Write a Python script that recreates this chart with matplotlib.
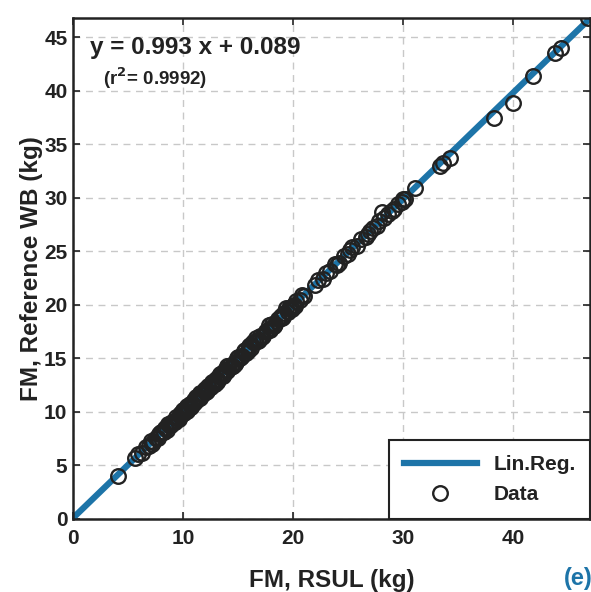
import matplotlib
matplotlib.use("Agg")
import matplotlib.pyplot as plt
import numpy as np

plt.rcParams['font.family'] = ['Liberation Sans', 'DejaVu Sans']
plt.rcParams['font.weight'] = 'bold'

# Data
x_data = [4.1, 5.6, 5.9, 6.3, 6.6, 6.9, 7.1, 7.3, 7.5, 7.7, 7.9, 8.0, 8.2, 8.4, 8.5,
          8.7, 8.9, 9.0, 9.2, 9.4, 9.5, 9.7, 9.9, 10.0, 10.2, 10.3, 10.5, 10.6, 10.8,
          11.0, 11.1, 11.3, 11.5, 11.6, 11.8, 12.0, 12.1, 12.3, 12.5, 12.7, 12.9, 13.0,
          13.2, 13.4, 13.6, 13.8, 14.0, 14.2, 14.4, 14.6, 14.8, 15.0, 15.3, 15.5, 15.7,
          16.0, 16.2, 16.5, 16.8, 17.0, 17.3, 17.6, 17.9, 18.1, 18.4, 18.7, 19.0, 19.2,
          19.5, 19.8, 20.0, 20.3, 20.6, 21.0, 22.0, 22.3, 22.7, 23.0, 23.4, 23.8, 24.2,
          24.6, 25.0, 25.4, 25.8, 26.2, 26.6, 27.0, 27.3, 27.6, 28.1, 28.3, 28.6, 29.0,
          29.5, 29.9, 30.2, 31.1, 33.4, 33.6, 34.3, 38.3, 40.0, 41.8, 43.8, 44.4, 46.8,
          7.2, 7.8, 8.3, 8.8, 9.3, 9.8, 10.1, 10.4, 10.9, 11.2, 11.4, 11.9, 12.2, 12.6,
          12.8, 13.3, 13.7, 14.1, 14.5, 14.9, 15.2, 15.6, 15.9, 16.4, 16.9, 17.5, 18.0,
          18.6, 19.1, 19.6, 20.2, 20.8, 9.6, 10.7, 11.7, 12.4, 13.5, 14.7, 16.1, 17.2,
          18.9, 20.1, 24.0, 25.2, 26.8, 27.8, 29.2, 30.0,
          8.6, 10.4, 11.5, 12.9, 14.0, 15.4, 16.6, 18.3, 19.4, 13.1, 17.8, 19.9]
y_data = [4.0, 5.7, 6.1, 6.2, 6.7, 6.8, 7.3, 7.2, 7.6, 7.6, 8.0, 8.1, 8.1, 8.5, 8.3,
          8.8, 8.8, 9.1, 9.1, 9.5, 9.4, 9.8, 9.8, 10.2, 10.1, 10.4, 10.4, 10.7, 10.7,
          11.1, 10.9, 11.4, 11.3, 11.7, 11.7, 12.1, 11.9, 12.4, 12.3, 12.8, 12.7, 13.1,
          13.0, 13.5, 13.4, 13.9, 13.8, 14.3, 14.2, 14.6, 14.7, 15.1, 15.1, 15.7, 15.5,
          16.2, 16.0, 16.5, 16.6, 17.1, 17.1, 17.6, 17.7, 18.2, 18.2, 18.7, 18.8, 19.2,
          19.3, 19.8, 19.9, 20.4, 20.5, 20.8, 21.9, 22.3, 22.4, 23.0, 23.2, 23.8, 23.9,
          24.6, 24.8, 25.4, 25.5, 26.2, 26.3, 26.9, 27.2, 27.4, 28.7, 28.1, 28.5, 28.8,
          29.4, 29.6, 29.9, 30.9, 33.0, 33.3, 33.7, 37.5, 38.9, 41.4, 43.5, 44.0, 46.8,
          7.0, 7.9, 8.1, 8.9, 9.1, 9.9, 9.9, 10.6, 10.7, 11.4, 11.2, 12.0, 12.0, 12.8,
          12.6, 13.4, 13.5, 14.3, 14.3, 15.0, 15.0, 15.8, 15.7, 16.5, 16.7, 17.6, 17.8,
          18.7, 18.9, 19.7, 19.9, 20.9, 9.3, 10.5, 11.8, 12.2, 13.6, 14.5, 16.3, 17.0,
          19.0, 20.0, 23.7, 25.1, 26.6, 27.8, 29.0, 29.9,
          8.9, 10.1, 11.8, 12.6, 14.3, 15.2, 16.9, 18.0, 19.7, 12.8, 18.1, 19.6]

slope = 0.993
intercept = 0.089
line_x = [0, 47]

blue = '#1d74a8'

fig = plt.figure(figsize=(5.91, 5.92), dpi=100)
ax = fig.add_axes([73/591, (592-519)/592, (590-73)/591, (519-18)/592])

lx = np.array(line_x, dtype=float)
ax.plot(lx, slope*lx + intercept, color=blue, lw=4.5, label='Lin.Reg.', zorder=2)
ax.plot(x_data, y_data, 'o', mfc='none', mec='#222222', ms=10.5, mew=1.7,
        label='Data', zorder=3)

ax.set_xlim(0, 47)
ax.set_ylim(0, 46.8)
ax.set_xticks([0, 10, 20, 30, 40])
ax.set_yticks(range(0, 50, 5))
ax.grid(True, ls=(0, (5, 4)), color='#c8c8c8', lw=1.0)
ax.set_axisbelow(True)
ax.tick_params(direction='in', top=True, right=True, length=5, width=1.2,
               labelsize=15, pad=4, colors='#222222')
ax.tick_params(axis='x', pad=7)
for lab in ax.get_xticklabels() + ax.get_yticklabels():
    lab.set_fontweight('bold')
for s in ax.spines.values():
    s.set_linewidth(1.8)
    s.set_color('#222222')

ax.set_xlabel('FM, RSUL (kg)', fontsize=17.5, fontweight='bold', labelpad=15, color='#222222')
ax.set_ylabel('FM, Reference WB (kg)', fontsize=17.5, fontweight='bold', labelpad=1, color='#222222')

ax.text(0.033, 0.965, 'y = 0.993 x + 0.089', transform=ax.transAxes, fontsize=17.5,
        fontweight='bold', va='top', ha='left', color='#222222')
ax.text(0.058, 0.905, r'(r$^{\mathbf{2}}$= 0.9992)', transform=ax.transAxes, fontsize=13.5,
        fontweight='bold', va='top', ha='left', color='#222222')

leg = ax.legend(loc='lower right', fontsize=15, frameon=True, fancybox=False,
                borderaxespad=0, handlelength=3.5, borderpad=0.7, labelspacing=0.55,
                handletextpad=0.8)
leg.get_frame().set_edgecolor('#222222')
leg.get_frame().set_linewidth(1.5)
leg.get_frame().set_alpha(1)
for t in leg.get_texts():
    t.set_fontweight('bold')
    t.set_color('#222222')

fig.text(578/591, 1 - 578/592, '(e)', color=blue, fontsize=17, fontweight='bold',
         ha='center', va='center')

fig.savefig('out.png', dpi=100)
